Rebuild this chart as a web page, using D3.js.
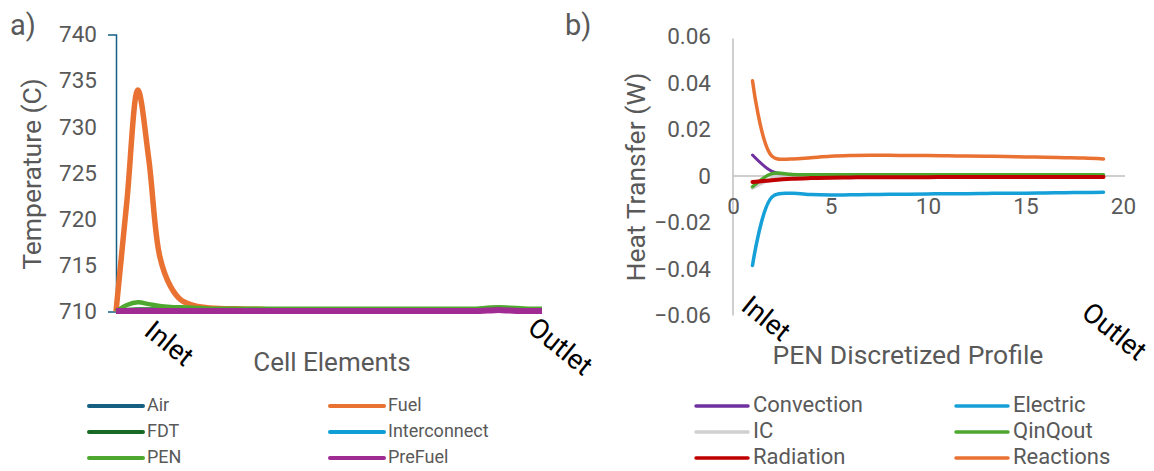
<!DOCTYPE html>
<html>
<head>
<meta charset="utf-8">
<script src="https://cdn.jsdelivr.net/npm/d3@7"></script>
<style>
  html, body { margin: 0; padding: 0; background: #fff; }
  svg { display: block; font-family: Roboto, "Noto Sans", sans-serif; }
</style>
</head>
<body>
<svg id="chart" width="1154" height="471"></svg>
<script>
// ---- Panel a: cell temperatures along the cell (40 elements) ----
const cellIndex = d3.range(40);
const airTemp = [710.1,710.1,710.1,710.1,710.1,710.1,710.1,710.1,710.1,710.1,710.1,710.1,710.1,710.1,710.1,710.1,710.1,710.1,710.1,710.1,710.1,710.1,710.1,710.1,710.1,710.1,710.1,710.1,710.1,710.1,710.1,710.1,710.1,710.1,710.1,710.1,710.1,710.1,710.1,710.1];
const fuelTemp = [710,722,734,726.5,716,712.7,711.2,710.7,710.45,710.35,710.3,710.3,710.25,710.25,710.2,710.2,710.2,710.2,710.2,710.2,710.2,710.2,710.2,710.2,710.2,710.2,710.2,710.2,710.2,710.2,710.2,710.2,710.2,710.2,710.2,710.2,710.2,710.2,710.2,710.2];
const fdtTemp = [710.1,710.2,710.25,710.25,710.25,710.2,710.2,710.2,710.2,710.15,710.0,709.95,709.95,709.95,710.0,710.1,710.15,710.2,710.2,710.2,710.2,710.2,710.2,710.2,710.2,710.2,710.2,710.2,710.2,710.2,710.2,710.2,710.2,710.2,710.25,710.3,710.3,710.25,710.2,710.2];
const interconnectTemp = [710.1,710.15,710.15,710.15,710.15,710.15,710.15,710.15,710.15,710.15,710.15,710.15,710.15,710.15,710.15,710.15,710.15,710.15,710.15,710.15,710.15,710.15,710.15,710.15,710.15,710.15,710.15,710.15,710.15,710.15,710.15,710.15,710.15,710.15,710.15,710.15,710.15,710.15,710.15,710.15];
const penTemp = [710,710.7,711.0,710.8,710.6,710.5,710.45,710.4,710.35,710.3,710.3,710.3,710.3,710.3,710.3,710.3,710.3,710.3,710.3,710.3,710.3,710.3,710.3,710.3,710.3,710.3,710.3,710.3,710.3,710.3,710.3,710.3,710.3,710.3,710.4,710.45,710.4,710.35,710.3,710.3];
const preFuelTemp = [710.05,710.05,710.05,710.05,710.05,710.05,710.05,710.05,710.05,710.05,710.05,710.05,710.05,710.05,710.05,710.05,710.05,710.05,710.05,710.05,710.05,710.05,710.05,710.05,710.05,710.05,710.05,710.05,710.05,710.05,710.05,710.05,710.05,710.05,710.1,710.15,710.1,710.05,710.05,710.05];
const tempTicks = [710, 715, 720, 725, 730, 735, 740];

const tempSeries = [
  { name: "Air", values: airTemp, color: "#156082", width: 4 },
  { name: "Fuel", values: fuelTemp, color: "#E97132", width: 5.5 },
  { name: "FDT", values: fdtTemp, color: "#196B24", width: 4 },
  { name: "Interconnect", values: interconnectTemp, color: "#0F9ED5", width: 4 },
  { name: "PEN", values: penTemp, color: "#4EA72E", width: 4.5 },
  { name: "PreFuel", values: preFuelTemp, color: "#A02B93", width: 6 }
];

// ---- Panel b: PEN heat transfer terms over discretized nodes 1..19 ----
const penNode = d3.range(1, 20);
const convection = [0.0090,0.0020,0.0003,0.0001,0.0001,0.0001,0.0001,0.0001,0.0001,0.0001,0.0001,0.0001,0.0001,0.0001,0.0001,0.0001,0.0001,0.0001,0.0001];
const electric = [-0.0385,-0.0090,-0.0074,-0.0080,-0.0082,-0.0081,-0.0080,-0.0079,-0.0078,-0.0077,-0.0076,-0.0076,-0.0075,-0.0074,-0.0074,-0.0073,-0.0072,-0.0071,-0.0070];
const ic = [-0.0052,-0.0012,-0.0002,0,0,0,0,0,0,0,0,0,0,0,0,0,0,0,0];
const qinQout = [-0.0046,0.0010,0.0007,0.0005,0.0005,0.0005,0.0005,0.0005,0.0005,0.0005,0.0005,0.0005,0.0005,0.0005,0.0005,0.0005,0.0005,0.0005,0.0005];
const radiation = [-0.0026,-0.0018,-0.0012,-0.0009,-0.0007,-0.0006,-0.0005,-0.0005,-0.0005,-0.0005,-0.0004,-0.0004,-0.0004,-0.0004,-0.0004,-0.0004,-0.0004,-0.0004,-0.0004];
const reactions = [0.0410,0.0085,0.0073,0.0079,0.0085,0.0088,0.0089,0.0089,0.0088,0.0088,0.0087,0.0086,0.0085,0.0084,0.0082,0.0081,0.0079,0.0077,0.0073];
const heatTicks = [-0.06, -0.04, -0.02, 0, 0.02, 0.04, 0.06];
const nodeTicks = [0, 5, 10, 15, 20];

const heatSeries = [
  { name: "Convection", values: convection, color: "#7030A0", width: 3 },
  { name: "Electric", values: electric, color: "#16A0D8", width: 3.5 },
  { name: "IC", values: ic, color: "#D0D0D0", width: 3.5 },
  { name: "QinQout", values: qinQout, color: "#4EA72E", width: 3.5 },
  { name: "Radiation", values: radiation, color: "#C00000", width: 4 },
  { name: "Reactions", values: reactions, color: "#E97132", width: 3.5 }
];

const svg = d3.select("#chart");
const grey = "#595959";

// ================= Panel a =================
const xA = d3.scaleLinear().domain([0, 39]).range([116, 542]);
const yA = d3.scaleLinear().domain([710, 740]).range([311.5, 34.5]);

svg.append("text").attr("x", 10).attr("y", 35)
  .attr("font-size", 29).attr("fill", grey).text("a)");

const axA = svg.append("g").attr("transform", `translate(${xA(0)},0)`)
  .call(d3.axisLeft(yA).tickValues(tempTicks).tickSize(0).tickSizeOuter(8).tickPadding(19));
axA.select(".domain").attr("stroke", "#156082").attr("stroke-width", 1.5);
axA.selectAll("text").attr("font-size", 22.5).attr("fill", grey).attr("font-family", "Roboto, sans-serif");

svg.append("text")
  .attr("transform", `translate(41,174) rotate(-90)`)
  .attr("text-anchor", "middle").attr("font-size", 26.5).attr("fill", grey)
  .text("Temperature (C)");

svg.append("text").attr("x", 332).attr("y", 371)
  .attr("text-anchor", "middle").attr("font-size", 26).attr("fill", grey)
  .text("Cell Elements");

const lineA = d3.line().x((d, i) => xA(cellIndex[i])).y(d => yA(d)).curve(d3.curveCatmullRom.alpha(0.5));
svg.append("g").selectAll("path").data(tempSeries).join("path")
  .attr("d", s => lineA(s.values))
  .attr("fill", "none").attr("stroke", s => s.color)
  .attr("stroke-width", s => s.width).attr("stroke-linejoin", "round");

// rotated end labels
function endLabel(text, cx, cy) {
  svg.append("text")
    .attr("transform", `translate(${cx},${cy}) rotate(39)`)
    .attr("text-anchor", "middle").attr("dominant-baseline", "middle")
    .attr("font-size", 27.5).attr("fill", "#000").text(text);
}
endLabel("Inlet", 168, 345);
endLabel("Outlet", 559, 348);

// legend a
const legA = svg.append("g");
tempSeries.forEach((s, i) => {
  const col = i % 2, row = Math.floor(i / 2);
  const x0 = col === 0 ? 89 : 330;
  const y0 = 406 + row * 26;
  legA.append("line").attr("x1", x0).attr("x2", x0 + 54).attr("y1", y0).attr("y2", y0)
    .attr("stroke", s.color).attr("stroke-width", 4).attr("stroke-linecap", "round");
  legA.append("text").attr("x", x0 + 58).attr("y", y0).attr("dominant-baseline", "middle")
    .attr("font-size", 18).attr("fill", grey).text(s.name);
});

// ================= Panel b =================
const xB = d3.scaleLinear().domain([0, 20]).range([733, 1123]);
const yB = d3.scaleLinear().domain([-0.06, 0.06]).range([315.5, 36.5]);

svg.append("text").attr("x", 565).attr("y", 35)
  .attr("font-size", 29).attr("fill", grey).text("b)");

const axBy = svg.append("g").attr("transform", `translate(${xB(0)},0)`)
  .call(d3.axisLeft(yB).tickValues(heatTicks).tickSize(0).tickSizeOuter(0).tickPadding(22)
    .tickFormat(d => d === 0 ? "0" : d3.format(".2f")(d)));
axBy.select(".domain").attr("stroke", "#BFBFBF").attr("stroke-width", 1.5)
  .attr("d", `M0,${yB(0.06) + 2}V${yB(-0.06)}`);
axBy.selectAll("text").attr("font-size", 22.5).attr("fill", grey).attr("font-family", "Roboto, sans-serif");

const axBx = svg.append("g").attr("transform", `translate(0,${yB(0)})`)
  .call(d3.axisBottom(xB).tickValues(nodeTicks).tickSize(0).tickSizeOuter(0).tickPadding(22));
axBx.select(".domain").attr("stroke", "#BFBFBF").attr("stroke-width", 1.5)
  .attr("d", `M${xB(0)},0H${xB(20) + 2}`);
axBx.selectAll("text").attr("font-size", 22.5).attr("fill", grey).attr("font-family", "Roboto, sans-serif");

svg.append("text")
  .attr("transform", `translate(645,177) rotate(-90)`)
  .attr("text-anchor", "middle").attr("font-size", 26.5).attr("fill", grey)
  .text("Heat Transfer (W)");

svg.append("text").attr("x", 908).attr("y", 364)
  .attr("text-anchor", "middle").attr("font-size", 26.5).attr("fill", grey)
  .text("PEN Discretized Profile");

const lineB = d3.line().x((d, i) => xB(penNode[i])).y(d => yB(d)).curve(d3.curveCatmullRom.alpha(0.5));
svg.append("g").selectAll("path").data(heatSeries).join("path")
  .attr("d", s => lineB(s.values))
  .attr("fill", "none").attr("stroke", s => s.color)
  .attr("stroke-width", s => s.width).attr("stroke-linejoin", "round").attr("stroke-linecap", "round");

endLabel("Inlet", 765, 320);
endLabel("Outlet", 1113, 333);

// legend b
const legB = svg.append("g");
heatSeries.forEach((s, i) => {
  const col = i % 2, row = Math.floor(i / 2);
  const x0 = col === 0 ? 696 : 956;
  const y0 = 406 + row * 26;
  legB.append("line").attr("x1", x0).attr("x2", x0 + 52).attr("y1", y0).attr("y2", y0)
    .attr("stroke", s.color).attr("stroke-width", 3.5).attr("stroke-linecap", "round");
  legB.append("text").attr("x", x0 + 57).attr("y", y0).attr("dominant-baseline", "middle")
    .attr("font-size", 22).attr("fill", grey).text(s.name);
});
</script>
</body>
</html>
